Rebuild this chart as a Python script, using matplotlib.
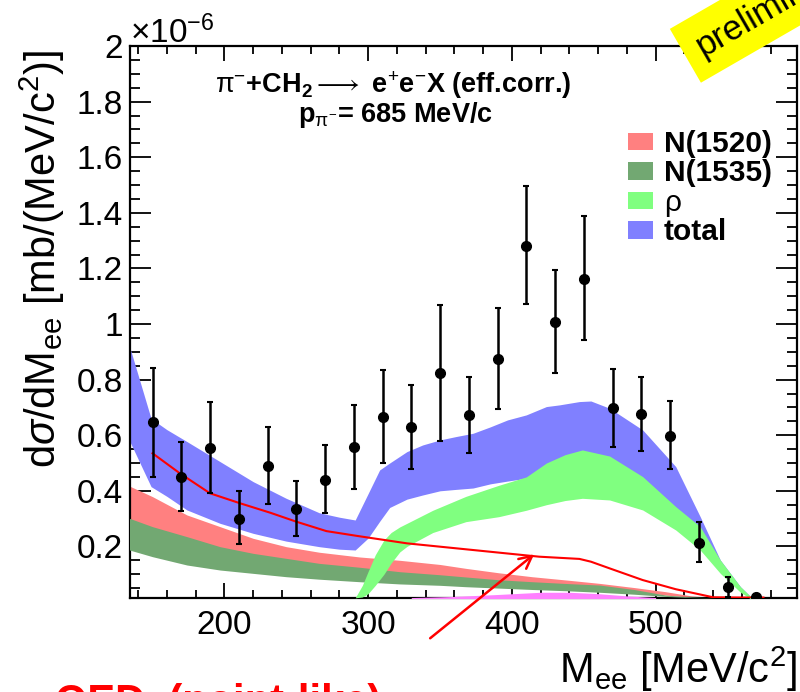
import matplotlib
matplotlib.use("Agg")
import matplotlib.pyplot as plt
from matplotlib.patches import Patch
from matplotlib.ticker import MultipleLocator, FuncFormatter

plt.rcParams["font.family"] = ["Liberation Sans", "DejaVu Sans"]
plt.rcParams["mathtext.fontset"] = "custom"
plt.rcParams["mathtext.rm"] = "Liberation Sans"
plt.rcParams["mathtext.it"] = "Liberation Sans:italic"
plt.rcParams["mathtext.bf"] = "Liberation Sans:bold"
plt.rcParams["mathtext.sf"] = "Liberation Sans"

# ---- measured spectrum (dsigma/dMee in units of 1e-6 mb/(MeV/c^2)) ----
mass_bins = [150, 170, 190, 210, 230, 250, 270, 290, 310, 330, 350,
             370, 390, 410, 430, 450, 470, 490, 510, 530, 550, 570]
dsigma = [0.646, 0.451, 0.555, 0.300, 0.490, 0.335, 0.439, 0.559, 0.667, 0.631, 0.823,
          0.673, 0.874, 1.281, 1.006, 1.162, 0.697, 0.676, 0.598, 0.213, 0.053, 0.017]
err_down = [0.195, 0.124, 0.162, 0.093, 0.138, 0.098, 0.120, 0.153, 0.168, 0.153, 0.244,
            0.138, 0.180, 0.209, 0.183, 0.220, 0.138, 0.133, 0.120, 0.070, 0.034, 0.012]
err_up = [0.194, 0.126, 0.165, 0.100, 0.138, 0.100, 0.126, 0.150, 0.168, 0.150, 0.245,
          0.137, 0.182, 0.217, 0.188, 0.228, 0.141, 0.134, 0.125, 0.076, 0.038, 0.012]

# ---- model bands ----
total_x = [134, 149, 160, 174, 197, 220, 243, 266, 280, 291, 300, 308, 315, 327, 338, 350,
           361, 373, 385, 397, 410, 424, 433, 447, 455, 468, 491, 514, 531, 545, 559, 567, 572]
total_hi = [0.920, 0.660, 0.620, 0.577, 0.505, 0.433, 0.373, 0.321, 0.305, 0.295, 0.390, 0.475,
            0.500, 0.541, 0.565, 0.583, 0.595, 0.607, 0.630, 0.655, 0.673, 0.703, 0.709, 0.721,
            0.723, 0.697, 0.619, 0.487, 0.307, 0.151, 0.055, 0.015, 0.005]
total_lo = [0.580, 0.415, 0.380, 0.331, 0.283, 0.247, 0.219, 0.199, 0.190, 0.187, 0.230, 0.290,
            0.340, 0.370, 0.385, 0.400, 0.405, 0.410, 0.425, 0.435, 0.445, 0.465, 0.475, 0.490,
            0.490, 0.480, 0.420, 0.330, 0.240, 0.120, 0.040, 0.012, 0.005]

baryon_x = [134, 150, 174, 197, 220, 243, 266, 294, 322, 350,
            368, 391, 414, 440, 461, 485, 507, 525, 542, 560]
n1520_hi = [0.417, 0.379, 0.313, 0.271, 0.229, 0.199, 0.179, 0.162, 0.150, 0.135,
            0.121, 0.105, 0.091, 0.078, 0.067, 0.052, 0.037, 0.022, 0.015, 0.010]
n1520_lo = [0.270, 0.240, 0.200, 0.170, 0.150, 0.135, 0.120, 0.105, 0.095, 0.085,
            0.078, 0.070, 0.063, 0.057, 0.050, 0.040, 0.025, 0.017, 0.015, 0.010]
n1535_hi = [0.301, 0.271, 0.235, 0.199, 0.175, 0.157, 0.139, 0.125, 0.109, 0.098,
            0.090, 0.080, 0.073, 0.066, 0.061, 0.045, 0.025, 0.018, 0.015, 0.010]
n1535_lo = [0.187, 0.163, 0.133, 0.115, 0.103, 0.091, 0.082, 0.073, 0.065, 0.060,
            0.055, 0.050, 0.045, 0.040, 0.035, 0.028, 0.020, 0.016, 0.015, 0.010]

rho_x = [291, 296, 300, 305, 311, 316, 322, 327, 345, 368, 391, 410, 424,
         437, 449, 468, 491, 514, 531, 545, 559, 566, 570]
rho_hi = [0.015, 0.060, 0.110, 0.170, 0.223, 0.250, 0.270, 0.283, 0.330, 0.380, 0.420, 0.450,
          0.500, 0.530, 0.547, 0.525, 0.451, 0.343, 0.271, 0.151, 0.055, 0.020, 0.010]
rho_lo = [0.015, 0.018, 0.030, 0.060, 0.100, 0.140, 0.180, 0.200, 0.250, 0.289, 0.307, 0.330,
          0.350, 0.365, 0.373, 0.367, 0.331, 0.259, 0.187, 0.103, 0.035, 0.012, 0.010]

other_x = [330, 360, 390, 420, 440, 460, 480, 500]
other_hi = [0.016, 0.020, 0.027, 0.035, 0.035, 0.030, 0.022, 0.016]
other_lo = [0.0, 0.0, 0.0, 0.0, 0.0, 0.0, 0.0, 0.0]

qed_x = [150, 169, 190, 211, 232, 250, 271, 292, 327, 373, 419, 447,
         455, 468, 491, 514, 540, 559, 575]
qed_y = [0.535, 0.463, 0.391, 0.355, 0.321, 0.289, 0.255, 0.238, 0.211, 0.187, 0.163, 0.155,
         0.145, 0.121, 0.079, 0.046, 0.017, 0.016, 0.016]

legend_labels = ["N(1520)", "N(1535)", "ρ", "total"]
col_n1520 = "#ff8080"
col_n1535 = "#72a872"
col_rho = "#80ff80"
col_total = "#8080ff"
col_other = "#ff80ff"

W, H = 800, 692
fig = plt.figure(figsize=(W / 100, H / 100), dpi=100)
ax = fig.add_axes([129.5 / W, 1 - 598 / H, (796.5 - 129.5) / W, (598 - 46) / H])

ax.fill_between(total_x, total_lo, total_hi, color=col_total, lw=0, zorder=1)
ax.fill_between(baryon_x, n1520_lo, n1520_hi, color=col_n1520, lw=0, zorder=2)
ax.fill_between(baryon_x, n1535_lo, n1535_hi, color=col_n1535, lw=0, zorder=3)
ax.fill_between(rho_x, rho_lo, rho_hi, color=col_rho, lw=0, zorder=4)
ax.fill_between(other_x, other_lo, other_hi, color=col_other, lw=0, zorder=4)
ax.plot(qed_x, qed_y, color="red", lw=1.5, zorder=5)

ax.errorbar(mass_bins, dsigma, yerr=[err_down, err_up], fmt="o", color="black",
            ms=7, elinewidth=1.8, capsize=2.5, capthick=1.5, zorder=6)

ax.set_xlim(134, 598)
ax.set_ylim(0.0144, 2.0)
ax.xaxis.set_major_locator(MultipleLocator(100))
ax.xaxis.set_minor_locator(MultipleLocator(20))
ax.yaxis.set_major_locator(MultipleLocator(0.2))
ax.yaxis.set_minor_locator(MultipleLocator(0.05))
ax.yaxis.set_major_formatter(FuncFormatter(lambda v, p: f"{v:g}"))
ax.set_axisbelow(True)
ax.tick_params(which="both", direction="in", top=True, right=True, width=1.3)
ax.tick_params(axis="y", which="major", length=15, pad=5, labelsize=24)
ax.tick_params(axis="y", which="minor", length=7)
ax.tick_params(axis="x", which="major", length=11, pad=9, labelsize=24)
ax.tick_params(axis="x", which="minor", length=5.5)
for s in ax.spines.values():
    s.set_linewidth(1.6)

fig.text(130 / W, 1 - 43 / H, r"$\times$10$^{-6}$", fontsize=24, va="baseline", ha="left")
fig.text(797 / W, 1 - 683 / H, r"M$_{\rm ee}$ [MeV/c$^{2}$]", fontsize=30,
         ha="right", va="baseline")
fig.text(56 / W, 1 - 50 / H, r"d$\sigma$/dM$_{\rm ee}$ [mb/(MeV/c$^{2}$)]", fontsize=30,
         rotation=90, rotation_mode="anchor", ha="right", va="baseline")

fig.text(393 / W, 1 - 85 / H,
         r"$\mathrm{\pi}^{-}$+CH$_{\mathbf{2}}{\longrightarrow}$ e$^{+}$e$^{-}$X (eff.corr.)",
         fontsize=19.5, fontweight="bold", ha="center", va="center")
fig.text(395 / W, 1 - 115 / H, r"p$_{\mathrm{\pi}^{-}}$= 685 MeV/c",
         fontsize=19.5, fontweight="bold", ha="center", va="center")

handles = [Patch(fc=c, ec="none") for c in (col_n1520, col_n1535, col_rho, col_total)]
leg = ax.legend(handles, legend_labels, loc="upper left",
                bbox_to_anchor=(628 / W, 1 - 130 / H), bbox_transform=fig.transFigure,
                frameon=False, borderpad=0, borderaxespad=0, handlelength=0.85,
                handleheight=0.52, handletextpad=0.35, labelspacing=0.05,
                prop={"size": 21.5, "weight": "bold"})
leg.get_texts()[2].set_fontweight("normal")

fig.text(698 / W, 1 - 48.5 / H, "preliminary", fontsize=25, rotation=30,
         rotation_mode="anchor", ha="left", va="center",
         bbox=dict(boxstyle="square,pad=0.42", fc="yellow", ec="none"))

fig.text(55 / W, 1 - 714 / H, "QED  (point-like)", fontsize=30, fontweight="bold",
         color="red", ha="left", va="baseline")
ax.annotate("", xy=(417, 0.178), xycoords="data",
            xytext=(428 / W, 1 - 640 / H), textcoords="figure fraction",
            arrowprops=dict(arrowstyle="->,head_length=0.9,head_width=0.45",
                            color="red", lw=1.8),
            annotation_clip=False, zorder=7)

fig.savefig("out.png", dpi=100)
